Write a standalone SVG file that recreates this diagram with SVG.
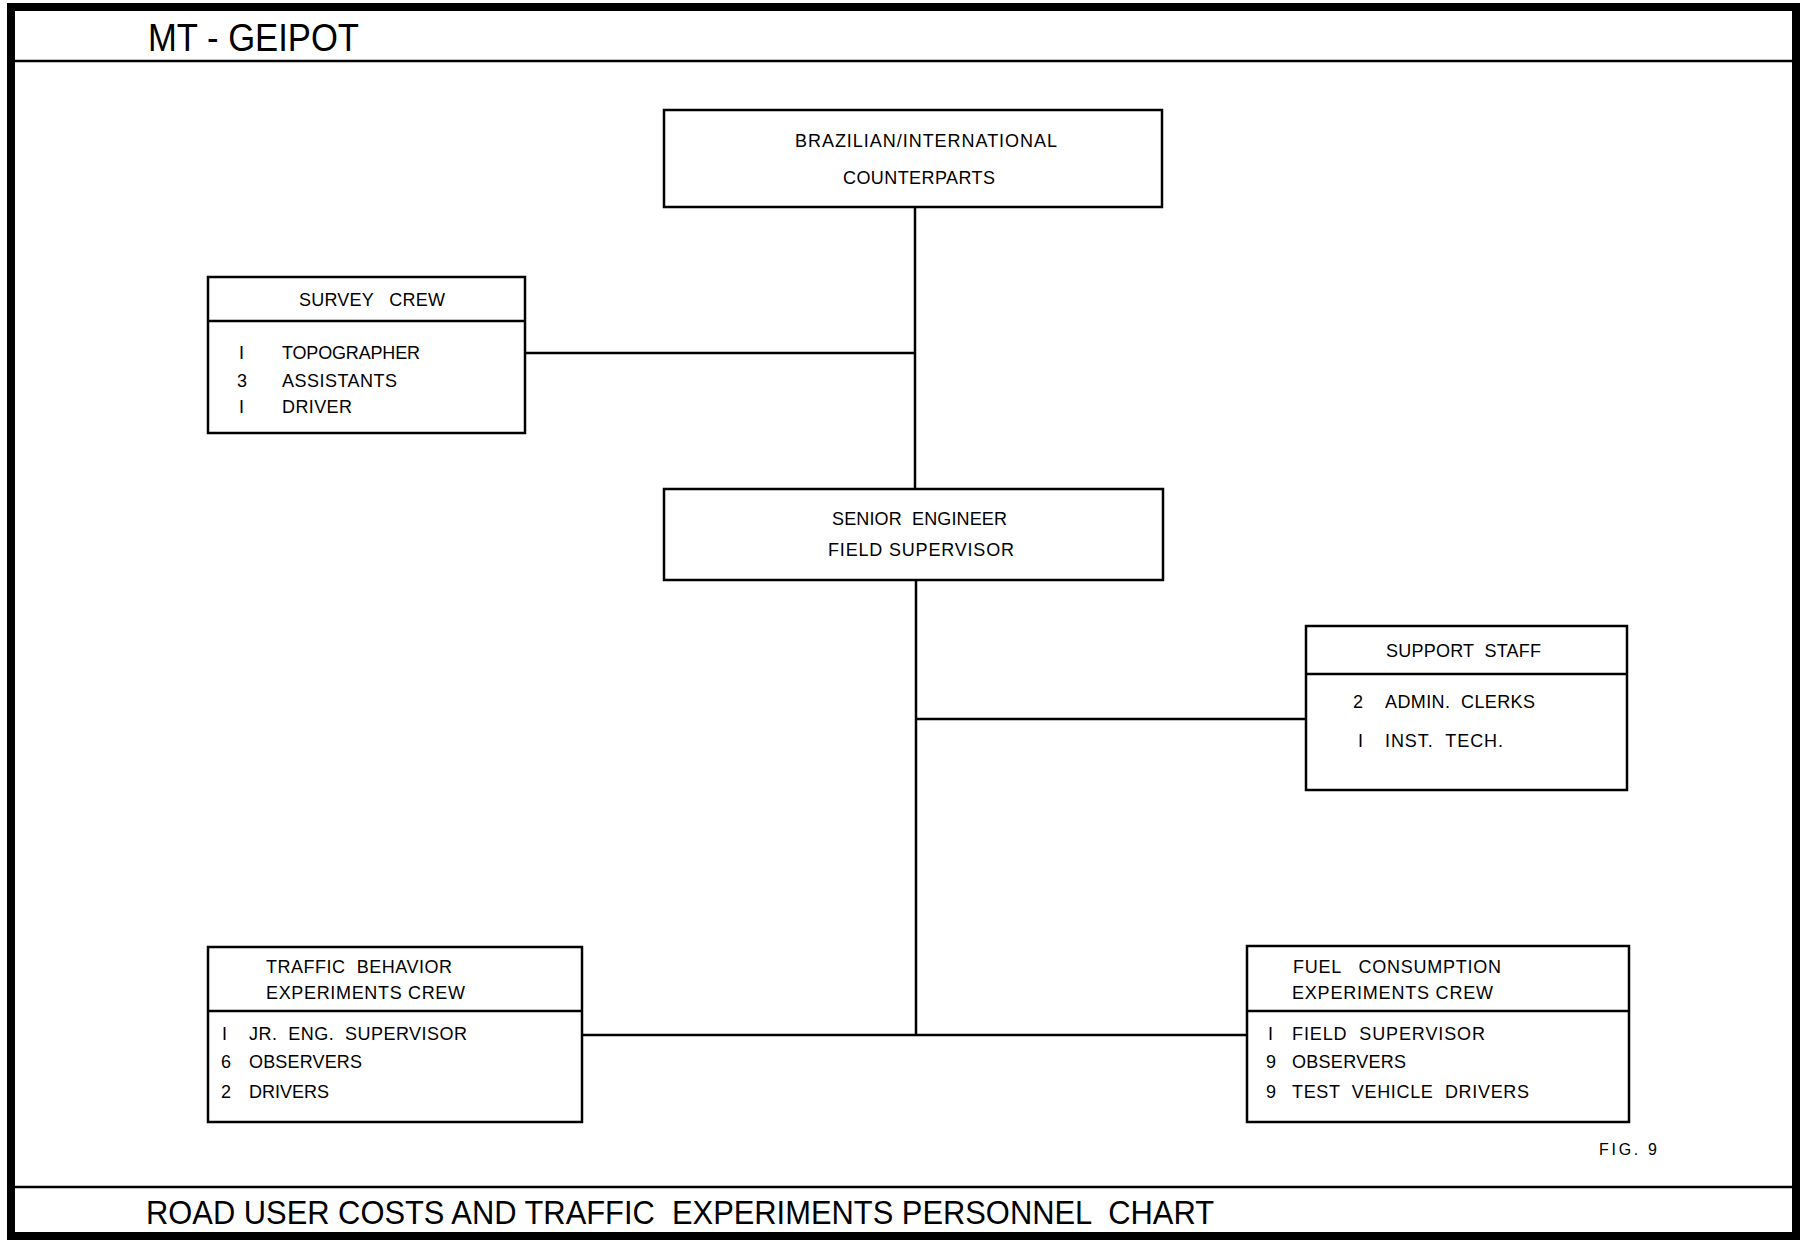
<svg xmlns="http://www.w3.org/2000/svg" width="1804" height="1240" viewBox="0 0 1804 1240">
<style>
.frame{fill:none;stroke:#000;stroke-width:8}
.rule{stroke:#000;stroke-width:2.5;fill:none}
.box{fill:#fff;stroke:#000;stroke-width:2.5}
.div{stroke:#000;stroke-width:2.5}
.conn{stroke:#000;stroke-width:2.5;fill:none}
text{font-family:"Liberation Sans",Arial,sans-serif;fill:#000;white-space:pre}
.t{font-size:18px}
.big{font-size:38px}
.foot{font-size:34px}
.fig{font-size:16px;letter-spacing:2px}
</style>
<rect x="0" y="0" width="1804" height="1240" fill="#fff"/>
<g id="frame">
<rect class="frame" x="11" y="7" width="1785" height="1229"/>
<line class="rule" x1="11" y1="61" x2="1796" y2="61"/>
<line class="rule" x1="11" y1="1187" x2="1796" y2="1187"/>
<text class="big" x="148" y="51" textLength="211" lengthAdjust="spacingAndGlyphs">MT - GEIPOT</text>
<text class="foot" x="146" y="1224" textLength="1068" lengthAdjust="spacingAndGlyphs">ROAD USER COSTS AND TRAFFIC  EXPERIMENTS PERSONNEL  CHART</text>
<text class="fig" x="1599" y="1155" textLength="60">FIG. 9</text>
</g>
<g id="connectors">
<line class="conn" x1="915" y1="207" x2="915" y2="489"/>
<line class="conn" x1="525" y1="353" x2="915" y2="353"/>
<line class="conn" x1="916" y1="580" x2="916" y2="1035"/>
<line class="conn" x1="916" y1="719" x2="1306" y2="719"/>
<line class="conn" x1="582" y1="1035" x2="1247" y2="1035"/>
</g>
<g id="counterparts">
<rect class="box" x="664" y="110" width="498" height="97"/>
<text class="t" x="795" y="147" textLength="262">BRAZILIAN/INTERNATIONAL</text>
<text class="t" x="843" y="184" textLength="152">COUNTERPARTS</text>
</g>
<g id="survey-crew">
<rect class="box" x="208" y="277" width="317" height="156"/>
<line class="div" x1="208" y1="321" x2="525" y2="321"/>
<text class="t" x="299" y="306" textLength="146">SURVEY   CREW</text>
<text class="t" x="239" y="359">I</text>
<text class="t" x="282" y="359" textLength="138">TOPOGRAPHER</text>
<text class="t" x="237" y="387">3</text>
<text class="t" x="282" y="387" textLength="115">ASSISTANTS</text>
<text class="t" x="239" y="413">I</text>
<text class="t" x="282" y="413" textLength="70">DRIVER</text>
</g>
<g id="senior-engineer">
<rect class="box" x="664" y="489" width="499" height="91"/>
<text class="t" x="832" y="525" textLength="175">SENIOR  ENGINEER</text>
<text class="t" x="828" y="556" textLength="186">FIELD SUPERVISOR</text>
</g>
<g id="support-staff">
<rect class="box" x="1306" y="626" width="321" height="164"/>
<line class="div" x1="1306" y1="674" x2="1627" y2="674"/>
<text class="t" x="1386" y="657" textLength="155">SUPPORT  STAFF</text>
<text class="t" x="1353" y="708">2</text>
<text class="t" x="1385" y="708" textLength="150">ADMIN.  CLERKS</text>
<text class="t" x="1358" y="747">I</text>
<text class="t" x="1385" y="747" textLength="118">INST.  TECH.</text>
</g>
<g id="traffic-behavior">
<rect class="box" x="208" y="947" width="374" height="175"/>
<line class="div" x1="208" y1="1011" x2="582" y2="1011"/>
<text class="t" x="266" y="973" textLength="186">TRAFFIC  BEHAVIOR</text>
<text class="t" x="266" y="999" textLength="199">EXPERIMENTS CREW</text>
<text class="t" x="222" y="1040">I</text>
<text class="t" x="249" y="1040" textLength="218">JR.  ENG.  SUPERVISOR</text>
<text class="t" x="221" y="1068">6</text>
<text class="t" x="249" y="1068" textLength="113">OBSERVERS</text>
<text class="t" x="221" y="1098">2</text>
<text class="t" x="249" y="1098" textLength="80">DRIVERS</text>
</g>
<g id="fuel-consumption">
<rect class="box" x="1247" y="946" width="382" height="176"/>
<line class="div" x1="1247" y1="1011" x2="1629" y2="1011"/>
<text class="t" x="1293" y="973" textLength="208">FUEL   CONSUMPTION</text>
<text class="t" x="1292" y="999" textLength="201">EXPERIMENTS CREW</text>
<text class="t" x="1268" y="1040">I</text>
<text class="t" x="1292" y="1040" textLength="193">FIELD  SUPERVISOR</text>
<text class="t" x="1266" y="1068">9</text>
<text class="t" x="1292" y="1068" textLength="114">OBSERVERS</text>
<text class="t" x="1266" y="1098">9</text>
<text class="t" x="1292" y="1098" textLength="237">TEST  VEHICLE  DRIVERS</text>
</g>
</svg>
